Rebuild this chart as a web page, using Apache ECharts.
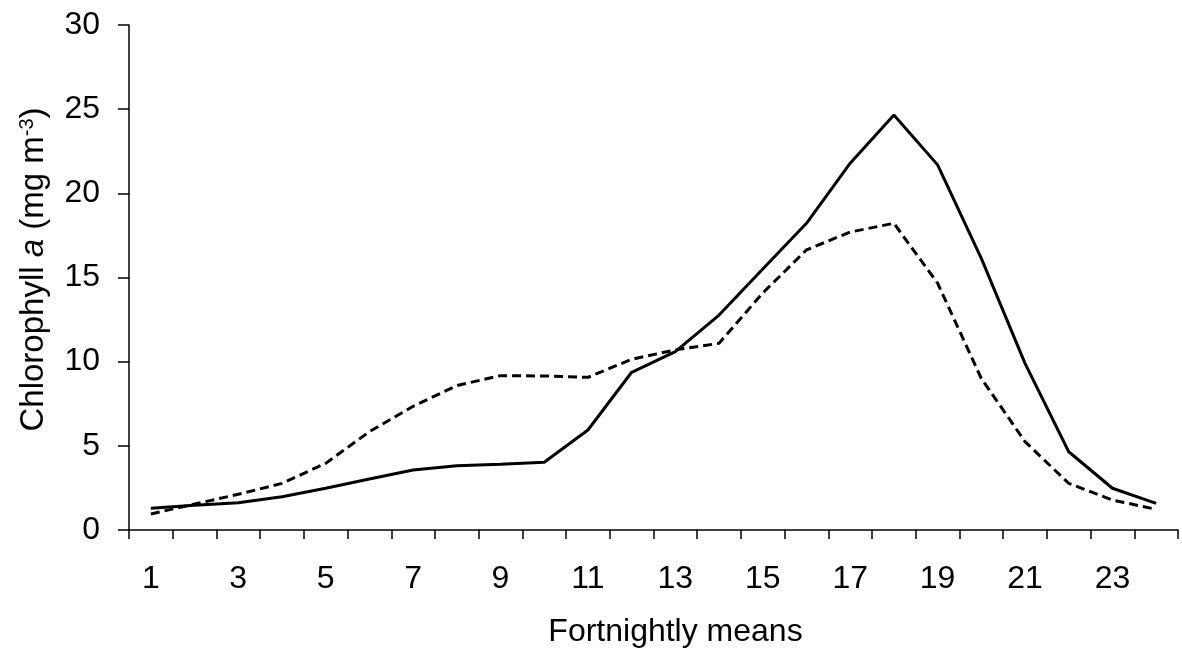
<!DOCTYPE html>
<html>
<head>
<meta charset="utf-8">
<script src="https://cdn.jsdelivr.net/npm/echarts@6/dist/echarts.min.js"></script>
<style>
html,body{margin:0;padding:0;background:#fff;}
#chart{width:1182px;height:658px;}
</style>
</head>
<body>
<div id="chart"></div>
<script>
const categories = ['1','2','3','4','5','6','7','8','9','10','11','12','13','14','15','16','17','18','19','20','21','22','23','24'];
const solidSeries = [1.29,1.47,1.62,1.98,2.48,3.03,3.56,3.82,3.90,4.02,5.94,9.37,10.6,12.77,15.5,18.22,21.79,24.66,21.69,16.14,9.9,4.65,2.48,1.58];
const dashedSeries = [0.95,1.54,2.12,2.77,3.96,5.84,7.35,8.58,9.17,9.15,9.07,10.14,10.7,11.09,14.08,16.64,17.7,18.22,14.66,9.0,5.25,2.77,1.78,1.23];
const yTicks = {min: 0, max: 30, interval: 5};

const FONT = '"Liberation Sans", Arial, sans-serif';
const chart = echarts.init(document.getElementById('chart'));
chart.setOption({
  animation: false,
  backgroundColor: '#ffffff',
  grid: {left: 129, right: 4, top: 25, bottom: 128, containLabel: false},
  xAxis: {
    type: 'category',
    data: categories,
    boundaryGap: true,
    name: 'Fortnightly means',
    nameLocation: 'middle',
    nameGap: 86,
    nameTextStyle: {fontFamily: FONT, fontSize: 32, color: '#000', padding: [0, 0, 0, 44]},
    axisLine: {lineStyle: {color: '#000', width: 1.5}},
    axisTick: {show: true, interval: 0, length: 9, inside: false, alignWithLabel: false, lineStyle: {color: '#000', width: 1.5}},
    axisLabel: {interval: 1, margin: 33, fontFamily: FONT, fontSize: 32, color: '#000'},
    splitLine: {show: false}
  },
  yAxis: {
    type: 'value',
    min: yTicks.min, max: yTicks.max, interval: yTicks.interval,
    name: 'Chlorophyll {i|a} (mg m{sup|-3})',
    nameLocation: 'middle',
    nameGap: 79,
    nameRotate: 90,
    nameTextStyle: {
      fontFamily: FONT, fontSize: 33, color: '#000', padding: [0, 0, 0, 16],
      rich: {
        i: {fontFamily: FONT, fontSize: 33, fontStyle: 'italic', color: '#000'},
        sup: {fontFamily: FONT, fontSize: 20, color: '#000', verticalAlign: 'top'}
      }
    },
    axisLine: {show: true, lineStyle: {color: '#000', width: 1.5}},
    axisTick: {show: true, length: 11, inside: false, lineStyle: {color: '#000', width: 1.5}},
    axisLabel: {margin: 29, fontFamily: FONT, fontSize: 32, color: '#000'},
    splitLine: {show: false}
  },
  series: [
    {
      type: 'line', data: solidSeries, showSymbol: false, symbol: 'none',
      lineStyle: {color: '#000', width: 3, type: 'solid'}
    },
    {
      type: 'line', data: dashedSeries, showSymbol: false, symbol: 'none',
      lineStyle: {color: '#000', width: 3, type: [9, 5]}
    }
  ]
});
</script>
</body>
</html>
